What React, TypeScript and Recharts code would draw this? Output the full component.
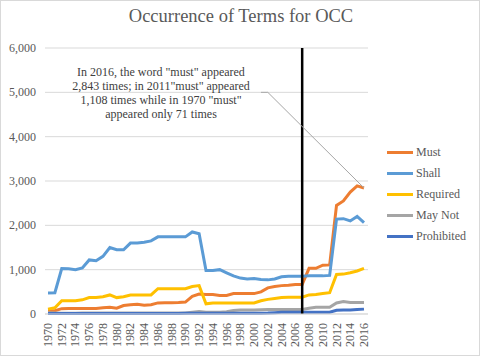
import React from "react";
import {
  LineChart,
  Line,
  XAxis,
  YAxis,
  CartesianGrid,
  ReferenceLine,
} from "recharts";

const years = [
  "1970", "1971", "1972", "1973", "1974", "1975", "1976", "1977", "1978", "1979",
  "1980", "1981", "1982", "1983", "1984", "1985", "1986", "1987", "1988", "1989",
  "1990", "1991", "1992", "1993", "1994", "1995", "1996", "1997", "1998", "1999",
  "2000", "2001", "2002", "2003", "2004", "2005", "2006", "2007", "2008", "2009",
  "2010", "2011", "2012", "2013", "2014", "2015", "2016",
];

const must = [
  71, 75, 120, 125, 125, 125, 125, 125, 140, 150,
  130, 190, 210, 220, 200, 210, 250, 255, 255, 260,
  270, 400, 450, 440, 440, 420, 420, 460, 460, 460,
  460, 500, 590, 620, 640, 650, 665, 665, 1030, 1030,
  1100, 1108, 2450, 2550, 2750, 2890, 2843,
];

const shall = [
  475, 480, 1025, 1020, 1000, 1040, 1220, 1200, 1300, 1500,
  1450, 1450, 1600, 1600, 1620, 1650, 1740, 1740, 1740, 1740,
  1740, 1850, 1810, 980, 980, 1000, 930, 860, 810, 790,
  800, 780, 770, 790, 840, 850, 850, 850, 860, 860,
  860, 870, 2140, 2150, 2100, 2200, 2060,
];

const required = [
  110, 140, 300, 300, 300, 320, 370, 370, 390, 430,
  370, 390, 430, 430, 430, 430, 570, 570, 570, 570,
  570, 620, 640, 230, 250, 250, 250, 250, 250, 250,
  250, 300, 330, 350, 370, 380, 380, 380, 430, 440,
  460, 480, 890, 900, 930, 970, 1030,
];

const mayNot = [
  30, 25, 15, 15, 15, 20, 20, 20, 20, 20,
  20, 20, 20, 20, 20, 20, 20, 20, 20, 20,
  25, 40, 55, 40, 40, 40, 50, 80, 90, 90,
  90, 95, 100, 100, 100, 100, 100, 100, 130, 150,
  150, 150, 250, 280, 260, 260, 260,
];

const prohibited = [
  10, 10, 10, 10, 10, 10, 10, 10, 10, 10,
  10, 10, 10, 10, 10, 10, 10, 10, 10, 10,
  15, 15, 15, 15, 15, 15, 15, 15, 15, 15,
  15, 15, 20, 30, 40, 40, 40, 40, 40, 40,
  40, 40, 85, 90, 90, 100, 110,
];

const yTicks = [0, 1000, 2000, 3000, 4000, 5000, 6000];

const series = [
  { key: "must", name: "Must", color: "#ED7D31" },
  { key: "shall", name: "Shall", color: "#5B9BD5" },
  { key: "required", name: "Required", color: "#FFC000" },
  { key: "mayNot", name: "May Not", color: "#A5A5A5" },
  { key: "prohibited", name: "Prohibited", color: "#4472C4" },
];

const data = years.map((year, i) => ({
  year,
  must: must[i],
  shall: shall[i],
  required: required[i],
  mayNot: mayNot[i],
  prohibited: prohibited[i],
}));

const FONT = "Liberation Serif";
const TEXT = "#595959";

const fmt = (v: number) => String(v).replace(/\B(?=(\d{3})+(?!\d))/g, ",");

const renderYearTick = (props: any) => {
  const { x, y, payload } = props;
  return (
    <g key={`yt-${payload.value}`}>
      <text
        x={x}
        y={y}
        dy={4}
        transform={`rotate(-90 ${x} ${y})`}
        textAnchor="end"
        fill={TEXT}
        fontFamily={FONT}
        fontSize={12}
      >
        {payload.value}
      </text>
    </g>
  );
};

const renderValueTick = (props: any) => {
  const { x, y, payload } = props;
  return (
    <g key={`vt-${payload.value}`}>
      <text x={x} y={y} dy={4} textAnchor="end" fill={TEXT} fontFamily={FONT} fontSize={12}>
        {fmt(payload.value)}
      </text>
    </g>
  );
};

export default function App() {
  return (
    <div
      style={{
        position: "absolute",
        left: 0,
        top: 0,
        width: 478,
        height: 354,
        border: "1px solid #d9d9d9",
        background: "#fff",
        fontFamily: FONT,
      }}
    >
      <div
        style={{
          position: "absolute",
          left: 0,
          top: 5,
          width: 480,
          textAlign: "center",
          fontSize: 18.5,
          color: TEXT,
        }}
      >
        Occurrence of Terms for OCC
      </div>
      <div style={{ position: "absolute", left: -1, top: -1 }}>
        <LineChart
          width={480}
          height={356}
          data={data}
          margin={{ top: 48, right: 112, bottom: 0, left: 0 }}
        >
          <CartesianGrid vertical={false} stroke="#d9d9d9" />
          <XAxis
            dataKey="year"
            interval={1}
            tick={renderYearTick}
            tickSize={0}
            tickMargin={9}
            height={42}
            axisLine={{ stroke: "#d9d9d9" }}
            padding={{ left: 3, right: 4 }}
          />
          <YAxis
            domain={[0, 6000]}
            ticks={yTicks}
            width={45}
            tickSize={0}
            tickMargin={9}
            axisLine={false}
            tick={renderValueTick}
          />
          {series.map((s) => (
            <Line
              key={s.key}
              type="linear"
              dataKey={s.key}
              name={s.name}
              stroke={s.color}
              strokeWidth={3}
              dot={false}
              isAnimationActive={false}
            />
          ))}
          <ReferenceLine x="2007" stroke="#000" strokeWidth={2.5} />
          <ReferenceLine
            segment={[
              { x: "2001", y: 5000 },
              { x: "2002", y: 5000 },
            ]}
            stroke="#a6a6a6"
            strokeWidth={1}
          />
          <ReferenceLine
            segment={[
              { x: "2002", y: 5000 },
              { x: "2016", y: 2843 },
            ]}
            stroke="#a6a6a6"
            strokeWidth={1}
          />
        </LineChart>
      </div>
      <div
        style={{
          position: "absolute",
          left: 386,
          top: 141,
          fontSize: 12,
          color: TEXT,
        }}
      >
        {series.map((s) => (
          <div key={s.key} style={{ display: "flex", alignItems: "center", height: 21 }}>
            <span
              style={{ width: 26, height: 3, background: s.color, marginRight: 3, display: "inline-block" }}
            />
            <span>{s.name}</span>
          </div>
        ))}
      </div>
      <div
        style={{
          position: "absolute",
          left: 60,
          top: 64,
          width: 200,
          textAlign: "center",
          fontSize: 12,
          lineHeight: "14px",
          color: "#404040",
        }}
      >
        In 2016, the word "must" appeared
        <br />
        2,843 times; in 2011"must" appeared
        <br />
        1,108 times while in 1970 "must"
        <br />
        appeared only 71 times
      </div>
    </div>
  );
}
